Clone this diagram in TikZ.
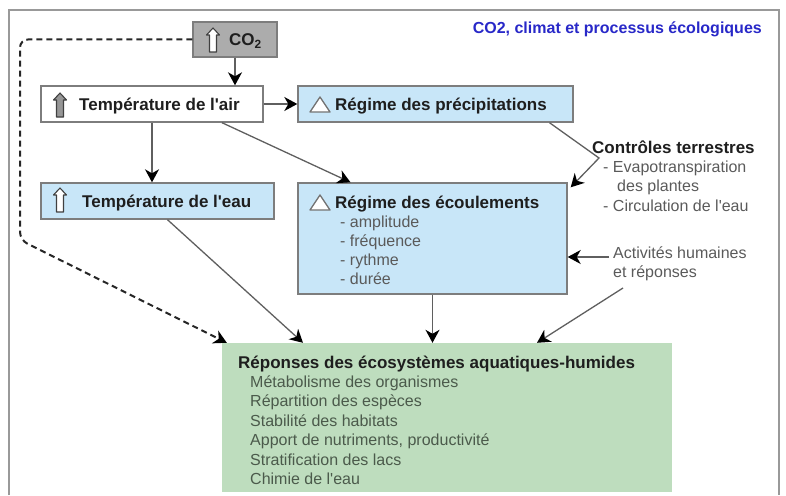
\documentclass[tikz,border=0pt]{standalone}
\usepackage{fontspec}
\setmainfont{Liberation Sans}
\usetikzlibrary{arrows.meta}
\definecolor{skyfill}{RGB}{200,230,248}
\definecolor{mossfill}{RGB}{190,221,190}
\definecolor{ashfill}{RGB}{172,172,172}
\definecolor{boxline}{RGB}{125,125,125}
\definecolor{linkgray}{RGB}{95,95,95}
\definecolor{headink}{RGB}{30,30,30}
\definecolor{itemink}{RGB}{90,90,90}
\definecolor{mossink}{RGB}{75,90,75}
\definecolor{titleblue}{RGB}{40,40,200}
\definecolor{iconfill}{RGB}{150,150,150}
\tikzset{
  box/.style={draw=boxline, line width=1.4pt, inner sep=0pt},
  whitebox/.style={box, fill=white},
  bluebox/.style={box, fill=skyfill},
  greybox/.style={box, fill=ashfill},
  greenbox/.style={inner sep=0pt, fill=mossfill},
  headtxt/.style={anchor=base west, inner sep=0pt, text=headink,
    font=\fontsize{17}{20}\selectfont\bfseries},
  itemtxt/.style={anchor=base west, inner sep=0pt, text=itemink,
    font=\fontsize{16}{19}\selectfont},
  titletxt/.style={anchor=base east, inner sep=0pt, text=titleblue,
    font=\fontsize{16}{18}\selectfont\bfseries},
  conn/.style={draw=linkgray, line width=1.3pt,
    -{Stealth[length=13pt,width=14pt,inset=4pt,color=black]}},
  dashconn/.style={draw=black!85, line width=2pt, dash pattern=on 6pt off 4pt,
    -{Stealth[length=13pt,width=14pt,inset=4pt,color=black]}},
  frame/.style={draw=black!40, line width=2pt},
  pics/hotarrow/.style={code={
    \draw[fill=#1, draw=black!75, line width=1.1pt, line join=round]
      (-3.5,12) -- (-3.5,-5) -- (-6.5,-5) -- (0,-12) -- (6.5,-5) -- (3.5,-5) -- (3.5,12) -- cycle;}},
  pics/delta/.style={code={
    \draw[fill=white, draw=black!55, line width=1.3pt, line join=round]
      (-10,7.5) -- (10,7.5) -- (0,-7.5) -- cycle;}}
}
\begin{document}
\begin{tikzpicture}[x=1pt,y=-1pt]
  \useasboundingbox (0,0) rectangle (786,495);
  \draw[frame] (9,495) -- (9,10) -- (779,10) -- (779,495);

  \node[titletxt] (title) at (762,33.5) {CO2, climat et processus écologiques};

  \node[greybox, minimum width=84pt, minimum height=35pt] (co2) at (235,39.5) {};
  \node[whitebox, minimum width=222pt, minimum height=36pt] (air) at (152,104) {};
  \node[bluebox, minimum width=275pt, minimum height=36pt] (precip) at (435.5,104) {};
  \node[bluebox, minimum width=233pt, minimum height=36pt] (eau) at (157.5,201) {};
  \node[bluebox, minimum width=269pt, minimum height=111pt] (ecoul) at (432.5,238.5) {};
  \node[greenbox, minimum width=450pt, minimum height=149pt] (repons) at (447,417.5) {};

  \pic at (213,40) {hotarrow=white};
  \pic at (60,105) {hotarrow=iconfill};
  \pic at (60,200) {hotarrow=white};
  \pic at (320,104.5) {delta};
  \pic at (320,202.5) {delta};

  \node[headtxt] (co2txt) at (229,45.5) {CO\textsubscript{2}};
  \node[headtxt] (airtxt) at (79,110) {Température de l\textquotesingle air};
  \node[headtxt] (preciptxt) at (335,110) {Régime des précipitations};
  \node[headtxt] (eautxt) at (82,207) {Température de l\textquotesingle eau};
  \node[headtxt] (ecoultxt) at (335,208) {Régime des écoulements};
  \foreach \t [count=\i] in {amplitude, fréquence, rythme, durée}
    \node[itemtxt] (ecitem\i) at (340,208+19*\i) {- \t};

  \node[headtxt] (repontxt) at (238,368) {Réponses des écosystèmes aquatiques-humides};
  \foreach \t [count=\i] in {Métabolisme des organismes, Répartition des espèces,
      Stabilité des habitats, {Apport de nutriments, productivité},
      Stratification des lacs, Chimie de l\textquotesingle eau}
    \node[itemtxt, text=mossink] (repitem\i) at (250,368+19.4*\i) {\t};

  \node[headtxt] (ctrl) at (592,153) {Contrôles terrestres};
  \node[itemtxt] (ctrl1) at (603,172.5) {- Evapotranspiration};
  \node[itemtxt] (ctrl2) at (617,191.5) {des plantes};
  \node[itemtxt] (ctrl3) at (603,211.5) {- Circulation de l\textquotesingle eau};
  \node[itemtxt] (act1) at (613,258.5) {Activités humaines};
  \node[itemtxt] (act2) at (613,277.5) {et réponses};

  \coordinate (ctrlbend) at (599,158);
  \coordinate (actstart) at (609,257);
  \coordinate (actfoot) at (623,288);
  \coordinate (dashturn) at (20,240);

  \draw[conn] (co2.south) -- (co2.south |- air.north);
  \draw[conn] (air.east) -- (precip.west);
  \draw[conn] (air.south) -- (air.south |- eau.north);
  \draw[conn] ([xshift=70pt]air.south) -- ([xshift=-82pt]ecoul.north);
  \draw[conn] ([xshift=10pt]eau.south) -- ([xshift=-144pt]repons.north);
  \draw[conn] (ecoul.south) -- (ecoul.south |- repons.north);
  \draw[conn] ([xshift=114pt]precip.south) -- (ctrlbend) -- ([shift={(3pt,-5pt)}]ecoul.north east);
  \draw[conn] (actstart) -- (ecoul.east |- actstart);
  \draw[conn] (actfoot) -- ([xshift=90pt]repons.north);
  \draw[dashconn, rounded corners=8pt] (co2.west) -| (dashturn) -- ([xshift=5pt]repons.north west);
\end{tikzpicture}
\end{document}
